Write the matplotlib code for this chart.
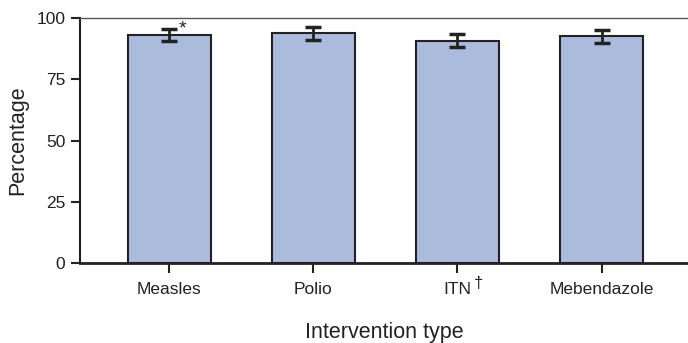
import numpy as np
import matplotlib
matplotlib.use('Agg')
import matplotlib.pyplot as plt

plt.rcParams['font.family'] = ['Liberation Sans', 'DejaVu Sans']

interventions = ['Measles', 'Polio', 'ITN', 'Mebendazole']
percentages = [93.1, 93.7, 90.7, 92.6]
errors = [2.5, 2.5, 2.7, 2.6]
markers = ['*', '', '\u2020', '']

bar_color = '#abbbdd'
edge_color = '#222222'

fig = plt.figure(figsize=(6.88, 3.43), dpi=100)
ax = fig.add_axes([0.1163, 0.2332, 0.8837, 0.7143])

x = np.arange(len(interventions))
ax.bar(x, percentages, width=0.575, color=bar_color, edgecolor=edge_color, linewidth=1.5, zorder=2)
ax.errorbar(x, percentages, yerr=errors, fmt='none', ecolor=edge_color,
            elinewidth=2, capsize=6, capthick=2.5, zorder=3)

# footnote markers
ax.text(x[0] + 0.065, 93.6, markers[0], fontsize=14,
        ha='left', va='baseline', color=edge_color)

ax.set_xlim(-0.62, 3.6)
ax.set_ylim(0, 100)
ax.set_yticks([0, 25, 50, 75, 100])
ax.set_xticks(x)
ax.set_xticklabels(interventions, fontsize=12.5)
ax.tick_params(axis='x', length=7.5, width=1.5, pad=6, colors='#222222')
ax.tick_params(axis='y', length=6.5, width=1.5, pad=4, labelsize=12.5, colors='#222222')

# dagger after ITN label
ax.annotate(markers[2], xy=(x[2], 0), xycoords=('data', 'axes fraction'),
            xytext=(11.5, -18), textcoords='offset points', fontsize=12,
            ha='left', va='baseline', color=edge_color)

ax.spines['right'].set_visible(False)
ax.spines['top'].set_color('#555555')
ax.spines['top'].set_linewidth(1.0)
ax.spines['left'].set_linewidth(1.5)
ax.spines['left'].set_color('#222222')
ax.spines['bottom'].set_linewidth(2)
ax.spines['bottom'].set_color('#222222')

ax.set_ylabel('Percentage', fontsize=15.5, labelpad=6, color='#222222')
ax.set_xlabel('Intervention type', fontsize=15.5, labelpad=18, color='#222222')

fig.savefig('out.png', dpi=100)
